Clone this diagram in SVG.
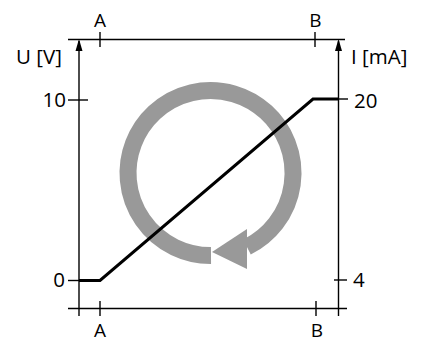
<svg xmlns="http://www.w3.org/2000/svg" width="422" height="338" viewBox="0 0 422 338">
<style>
.ax{stroke:#000;stroke-width:1.4;fill:none}
.t{font-family:"Open Sans","Noto Sans",sans-serif;font-size:20.5px;fill:#000}
.s{font-size:19px}
</style>
<rect width="422" height="338" fill="#fff"/>
<g id="cycle">
<path d="M211,255.5 A82.5,82.5 0 1 1 247,247" fill="none" stroke="#999" stroke-width="17"/>
<polygon points="212,252 247,229 247,269" fill="#999"/>
</g>
<g id="connectors">
<line class="ax" x1="68" y1="39.5" x2="345" y2="39.5"/>
<line class="ax" x1="68" y1="308.5" x2="347" y2="308.5"/>
<path class="ax" d="M79,316 V41"/>
<path d="M75.5,51 L79,39 L82.5,51 Z" fill="#000"/>
<path class="ax" d="M338.5,316 V41"/>
<path d="M335,51 L338.5,39 L342,51 Z" fill="#000"/>
<line class="ax" x1="100" y1="32" x2="100" y2="47"/>
<line class="ax" x1="315" y1="32" x2="315" y2="47"/>
<line class="ax" x1="100" y1="301" x2="100" y2="316"/>
<line class="ax" x1="316" y1="301" x2="316" y2="316"/>
<line class="ax" x1="68" y1="100" x2="88" y2="100"/>
<line class="ax" x1="68" y1="280.5" x2="79" y2="280.5"/>
<line class="ax" x1="338" y1="99" x2="348" y2="99"/>
<line class="ax" x1="334" y1="280" x2="347" y2="280"/>
<polyline points="79,280.5 100,280.5 313,99 338,99" fill="none" stroke="#000" stroke-width="3"/>
</g>
<g id="labels">
<text class="t s" x="100" y="27" text-anchor="middle">A</text>
<text class="t s" x="315.5" y="27" text-anchor="middle">B</text>
<text class="t s" x="100" y="337" text-anchor="middle">A</text>
<text class="t s" x="317" y="337" text-anchor="middle">B</text>
<text class="t" x="16" y="64">U [V]</text>
<text class="t" x="351" y="64">I [mA]</text>
<text class="t" x="66" y="107" text-anchor="end">10</text>
<text class="t" x="65" y="287" text-anchor="end">0</text>
<text class="t" x="354" y="107.5">20</text>
<text class="t" x="353" y="287">4</text>
</g>
</svg>
